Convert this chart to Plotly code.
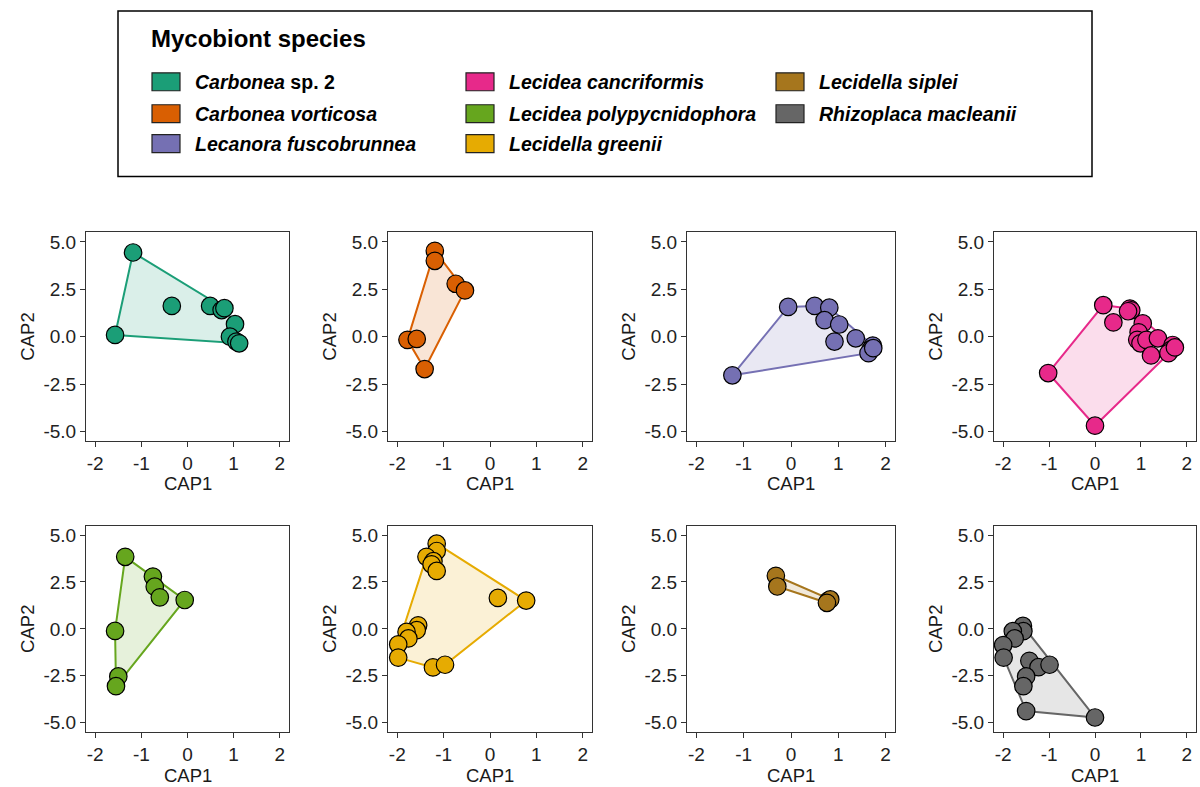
import plotly.graph_objects as go

# ---------------- data ----------------
species = [
    "Carbonea sp. 2", "Carbonea vorticosa", "Lecanora fuscobrunnea", "Lecidea cancriformis",
    "Lecidea polypycnidophora", "Lecidella greenii", "Lecidella siplei", "Rhizoplaca macleanii",
]
legend_labels = [
    "<i>Carbonea</i> sp. 2", "<i>Carbonea vorticosa</i>", "<i>Lecanora fuscobrunnea</i>",
    "<i>Lecidea cancriformis</i>", "<i>Lecidea polypycnidophora</i>", "<i>Lecidella greenii</i>",
    "<i>Lecidella siplei</i>", "<i>Rhizoplaca macleanii</i>",
]
colors = ["#1B9E77", "#D95F02", "#7570B3", "#E7298A", "#66A61E", "#E6AB02", "#A6761D", "#666666"]

carbonea_sp2_x = [-1.18, -1.57, -0.34, 0.49, 0.74, 0.80, 1.03, 0.92, 1.06, 1.12]
carbonea_sp2_y = [4.44, 0.09, 1.62, 1.62, 1.40, 1.50, 0.66, 0.00, -0.26, -0.35]

carbonea_vort_x = [-1.19, -1.19, -0.74, -0.54, -1.78, -1.58, -1.41]
carbonea_vort_y = [4.53, 4.00, 2.79, 2.44, -0.17, -0.12, -1.71]

lecanora_x = [-1.24, -0.06, 0.50, 0.81, 0.71, 1.02, 0.92, 1.37, 1.73, 1.69, 1.64, 1.74]
lecanora_y = [-2.04, 1.57, 1.62, 1.53, 0.87, 0.64, -0.26, -0.09, -0.47, -0.66, -0.87, -0.61]

cancriformis_x = [-1.02, 0.00, 0.18, 0.40, 0.76, 0.79, 0.72, 1.04, 0.95, 0.92, 0.99, 1.12, 1.22, 1.37, 1.69, 1.65, 1.60, 1.74]
cancriformis_y = [-1.92, -4.70, 1.66, 0.75, 1.48, 1.39, 1.34, 0.70, 0.23, -0.17, -0.35, -0.17, -0.99, -0.09, -0.44, -0.70, -0.87, -0.57]

polypycn_x = [-1.35, -0.75, -0.71, -0.60, -0.06, -1.57, -1.50, -1.55]
polypycn_y = [3.84, 2.79, 2.25, 1.68, 1.54, -0.11, -2.53, -3.05]

greenii_x = [-1.15, -1.15, -1.37, -1.22, -1.26, -1.15, 0.17, 0.78, -1.55, -1.58, -1.80, -1.76, -1.98, -1.98, -1.23, -0.97]
greenii_y = [4.54, 4.15, 3.84, 3.61, 3.44, 3.09, 1.65, 1.51, 0.19, -0.07, -0.16, -0.51, -0.82, -1.53, -2.05, -1.91]

siplei_x = [-0.32, -0.29, 0.79, 0.83, 0.76]
siplei_y = [2.83, 2.26, 1.51, 1.57, 1.39]

rhizoplaca_x = [-1.57, -1.56, -1.79, -1.75, -2.00, -1.99, -1.43, -1.23, -0.99, -1.50, -1.56, -1.50, 0.00]
rhizoplaca_y = [0.16, -0.12, -0.12, -0.51, -0.86, -1.53, -1.70, -2.04, -1.91, -2.53, -3.05, -4.38, -4.72]

series_x = [carbonea_sp2_x, carbonea_vort_x, lecanora_x, cancriformis_x,
            polypycn_x, greenii_x, siplei_x, rhizoplaca_x]
series_y = [carbonea_sp2_y, carbonea_vort_y, lecanora_y, cancriformis_y,
            polypycn_y, greenii_y, siplei_y, rhizoplaca_y]

x_ticks = [-2, -1, 0, 1, 2]
x_ticktext = ["-2", "-1", "0", "1", "2"]
y_ticks = [5.0, 2.5, 0.0, -2.5, -5.0]
y_ticktext = ["5.0", "2.5", "0.0", "-2.5", "-5.0"]


def hull(xs, ys):
    pts = sorted(set(zip(xs, ys)))
    if len(pts) <= 2:
        return pts

    def cross(o, a, b):
        return (a[0] - o[0]) * (b[1] - o[1]) - (a[1] - o[1]) * (b[0] - o[0])

    lower, upper = [], []
    for p in pts:
        while len(lower) >= 2 and cross(lower[-2], lower[-1], p) <= 0:
            lower.pop()
        lower.append(p)
    for p in reversed(pts):
        while len(upper) >= 2 and cross(upper[-2], upper[-1], p) <= 0:
            upper.pop()
        upper.append(p)
    return lower[:-1] + upper[:-1]


def rgba(hexc, a):
    h = hexc.lstrip("#")
    return "rgba(%d,%d,%d,%.2f)" % (int(h[0:2], 16), int(h[2:4], 16), int(h[4:6], 16), a)


W, H = 1200, 787
col_px = [(86, 289), (388, 592), (687, 895), (994, 1196)]
row_px = [(232, 441), (526, 733)]

fig = go.Figure()
layout = dict(
    width=W, height=H, margin=dict(l=0, r=0, t=0, b=0),
    paper_bgcolor="white", plot_bgcolor="white",
    showlegend=False,
    font=dict(family="Liberation Sans, Arial, sans-serif", color="#1a1a1a"),
)
annotations = []
shapes = []

for i, sp in enumerate(species):
    r, c = divmod(i, 4)
    k = i + 1
    xa = "x" if k == 1 else "x%d" % k
    ya = "y" if k == 1 else "y%d" % k
    xs, ys = series_x[i], series_y[i]
    hp = hull(xs, ys)
    hx = [p[0] for p in hp] + [hp[0][0]]
    hy = [p[1] for p in hp] + [hp[0][1]]
    fig.add_trace(go.Scatter(
        x=hx, y=hy, mode="lines", fill="toself",
        fillcolor=rgba(colors[i], 0.16),
        line=dict(color=colors[i], width=2),
        xaxis=xa, yaxis=ya, hoverinfo="skip", name=sp,
    ))
    fig.add_trace(go.Scatter(
        x=xs, y=ys, mode="markers",
        marker=dict(size=17.5, color=colors[i], line=dict(color="black", width=1.2)),
        xaxis=xa, yaxis=ya, name=sp,
    ))
    x0, x1 = col_px[c]
    y0, y1 = row_px[r]
    axcommon = dict(
        showgrid=False, zeroline=False, showline=True, mirror=True,
        linecolor="#333333", linewidth=1.1,
        ticks="outside", ticklen=5, tickwidth=1.1, tickcolor="#333333",
        tickfont=dict(size=19, color="#222222"),
    )
    layout["xaxis" if k == 1 else "xaxis%d" % k] = dict(
        domain=[x0 / W, x1 / W], anchor=ya, range=[-2.2, 2.2],
        tickvals=x_ticks, ticktext=x_ticktext, **axcommon)
    layout["yaxis" if k == 1 else "yaxis%d" % k] = dict(
        domain=[1 - y1 / H, 1 - y0 / H], anchor=xa, range=[-5.5, 5.5],
        tickvals=y_ticks, ticktext=y_ticktext, **axcommon)
    annotations.append(dict(
        text="CAP1", xref="paper", yref="paper", x=(x0 + x1) / 2 / W, y=1 - (y1 + 43) / H,
        xanchor="center", yanchor="middle", showarrow=False, font=dict(size=18.5, color="#1a1a1a")))
    annotations.append(dict(
        text="CAP2", xref="paper", yref="paper", x=(x0 - 58) / W, y=1 - (y0 + y1) / 2 / H,
        xanchor="center", yanchor="middle", textangle=-90, showarrow=False,
        font=dict(size=18.5, color="#1a1a1a")))

# ---------------- legend box ----------------
shapes.append(dict(type="rect", xref="paper", yref="paper",
                   x0=118 / W, x1=1092 / W, y0=1 - 176 / H, y1=1 - 10 / H,
                   line=dict(color="black", width=1.5), fillcolor="white", layer="below"))
annotations.append(dict(text="<b>Mycobiont species</b>", xref="paper", yref="paper",
                        x=149 / W, y=1 - 38 / H, xanchor="left", yanchor="middle",
                        showarrow=False, font=dict(size=24, color="black")))
leg_cols = [152, 466, 776]
leg_rows = [81, 113, 143]
for i, lab in enumerate(legend_labels):
    c, r = divmod(i, 3)
    kx, ky = leg_cols[c], leg_rows[r]
    shapes.append(dict(type="rect", xref="paper", yref="paper",
                       x0=kx / W, x1=(kx + 28) / W, y0=1 - (ky + 9) / H, y1=1 - (ky - 9) / H,
                       line=dict(color="#222222", width=1.2), fillcolor=colors[i]))
    annotations.append(dict(text="<b>" + lab + "</b>", xref="paper", yref="paper",
                            x=(kx + 41) / W, y=1 - ky / H, xanchor="left", yanchor="middle",
                            showarrow=False, font=dict(size=19.5, color="black")))

layout["annotations"] = annotations
layout["shapes"] = shapes
fig.update_layout(**layout)
fig.write_html("out.html")
